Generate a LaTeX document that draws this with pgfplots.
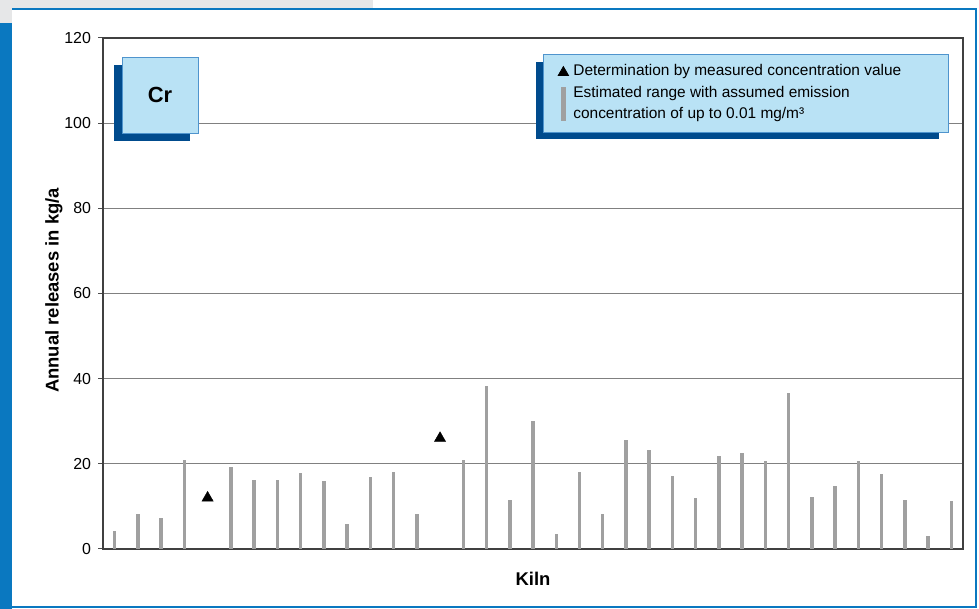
\documentclass[border=0pt]{standalone}
\usepackage{fontspec}
\setmainfont{Liberation Sans}
\usepackage{pgfplots}
\pgfplotsset{compat=1.18}
\usetikzlibrary{shadows}
\definecolor{lbfill}{HTML}{B9E2F5}
\definecolor{lbdraw}{HTML}{4F94CD}
\definecolor{shadowblue}{HTML}{004B8D}
\definecolor{frameblue}{HTML}{0A78C0}
\definecolor{greyb}{HTML}{E6E7E8}
\definecolor{bargrey}{HTML}{A0A0A0}
\definecolor{gridgrey}{HTML}{808080}
\begin{document}
\begin{tikzpicture}[x=1bp,y=1bp]
\path[use as bounding box] (0,0) rectangle (979,609);
\fill[greyb] (0,600) rectangle (373,609);
\fill[greyb] (0,586) rectangle (12,600);
\fill[frameblue] (0,0) rectangle (12,586);
\draw[frameblue, line width=2bp] (12,600) -- (976,600) -- (976,2) -- (12,2);
\begin{axis}[
  at={(103bp,60bp)}, anchor=south west,
  width=860bp, height=511bp, scale only axis,
  xmin=0.5, xmax=37.5, ymin=0, ymax=120,
  xtick=\empty, ytick={0,20,...,120},
  ymajorgrids, grid style={gridgrey, line width=1bp},
  axis line style={black!75, line width=1.2bp},
  tick align=outside, major tick length=5bp,
  tick style={black!70, line width=1bp}, ytick pos=left,
  yticklabel style={font=\fontsize{16}{18}\selectfont, xshift=-3.5bp, /pgf/number format/assume math mode=true},
  ylabel={Annual releases in kg/a},
  ylabel style={font=\fontsize{18.5}{20}\selectfont\bfseries, at={(rel axis cs:-0.057,0.506)}, anchor=center},
  xlabel={Kiln},
  xlabel style={font=\fontsize{18.5}{20}\selectfont\bfseries, at={(rel axis cs:0.5,-0.0587)}, anchor=center},
  legend style={at={(rel axis cs:0.5116,0.9687)}, anchor=north west,
    fill=lbfill, draw=lbdraw, line width=0.8bp,
    font=\fontsize{15.5}{21.5}\selectfont,
    inner xsep=14.8bp, inner ysep=10bp, column sep=4.8bp, row sep=7.4bp,
    nodes={inner sep=0pt, text depth=}},
  legend cell align=left,
]
\fill[shadowblue] (axis description cs:0.5035,0.8023) rectangle (axis description cs:0.9721,0.9530);
\addplot[only marks, mark=triangle*, mark size=6.5bp, black,
  legend image code/.code={\draw[black, only marks, mark=triangle*, mark size=6bp] plot coordinates {(0bp,-1bp)};}]
  coordinates {(5,12.0) (15,26.0)};
\addlegendentry{Determination by measured concentration value}
\addplot[ycomb, no marks, bargrey, line width=3.5bp,
  legend image code/.code={\fill[bargrey, draw=none] (-2.3bp,-17.3bp) rectangle (2.3bp,16.7bp);}]
  coordinates {
  (1,4.3) (2,8.2) (3,7.2) (4,20.9) (6,19.2) (7,16.2) (8,16.2) (9,17.8)
  (10,15.9) (11,5.8) (12,16.9) (13,18.0) (14,8.3) (16,20.9) (17,38.3)
  (18,11.5) (19,30.0) (20,3.5) (21,18.0) (22,8.2) (23,25.6) (24,23.2)
  (25,17.1) (26,11.9) (27,21.8) (28,22.5) (29,20.7) (30,36.6) (31,12.2)
  (32,14.8) (33,20.7) (34,17.6) (35,11.5) (36,3.0) (37,11.2)};
\addlegendentry{\parbox[t]{360bp}{Estimated range with assumed emission\\concentration of up to 0.01 mg/m³}}
\end{axis}
\node[fill=lbfill, draw=lbdraw, line width=0.8bp, minimum width=76bp, minimum height=76bp,
  drop shadow={shadow xshift=-8bp, shadow yshift=-8bp, fill=shadowblue, opacity=1},
  font=\fontsize{22}{24}\selectfont\bfseries] at (160,514) {Cr};
\end{tikzpicture}
\end{document}
